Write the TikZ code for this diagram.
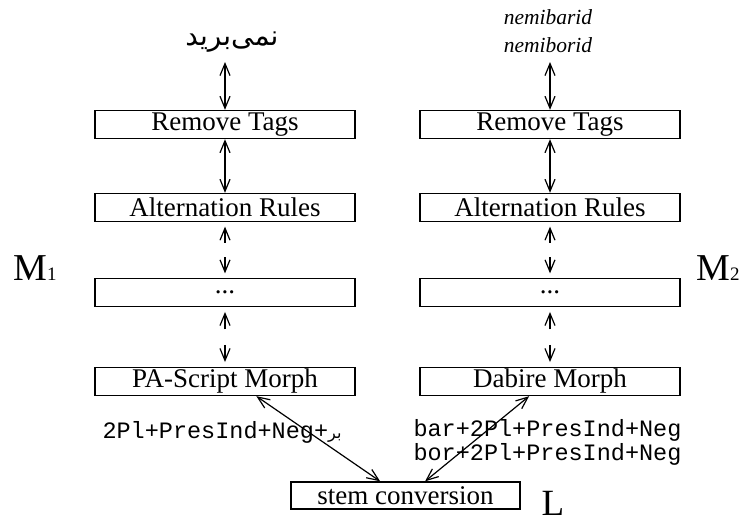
\documentclass[tikz,border=0pt]{standalone}
\usepackage{fontspec}
\setmainfont{Liberation Serif}
\setmonofont{Liberation Mono}
\newfontfamily\arabicfont[Script=Arabic]{DejaVu Sans}
\TeXXeTstate=1
\usetikzlibrary{arrows.meta,calc}
\begin{document}
\begin{tikzpicture}[x=1pt,y=-1pt,
  box/.style={draw,line width=1.4pt,minimum width=260pt,minimum height=28pt,inner sep=0pt,font=\fontsize{27}{29}\selectfont},
  arr/.style={{Straight Barb[length=12pt,width=10pt]}-{Straight Barb[length=12pt,width=10pt]},line width=1.2pt},
  harr/.style={-{Straight Barb[length=12pt,width=10pt]},line width=1.2pt}]
\useasboundingbox (0,0) rectangle (756,523);
% left column
\node[box] (r1) at (225,124.5) {Remove Tags};
\node[box] (a1) at (225,207.5) {Alternation Rules};
\node[box] (d1) at (225,292.5) {...};
\node[box] (p1) at (225,381.5) {PA-Script Morph};
% right column
\node[box] (r2) at (550,124.5) {Remove Tags};
\node[box] (a2) at (550,207.5) {Alternation Rules};
\node[box] (d2) at (550,292.5) {...};
\node[box] (p2) at (550,381.5) {Dabire Morph};
% stem
\node[box,minimum width=229pt,minimum height=27pt] (s) at (405.5,495.5) {stem conversion};
% top labels
\node[inner sep=2pt] (t1) at (232,42) {\arabicfont\fontsize{28}{30}\selectfont\beginR نمی‌برید\endR};
\node[inner sep=2pt,align=center,font=\fontsize{21.5}{28}\selectfont\itshape] (t2) at (548,31) {nemibarid\\nemiborid};
% vertical arrows
\draw[arr] (r1.north |- 0,62) coordinate (c1) -- (r1.north);
\draw[arr] (r2.north |- 0,62) coordinate (c2) -- (r2.north);
\draw[arr] (r1.south) -- (a1.north);
\draw[arr] (r2.south) -- (a2.north);
\foreach \u/\l in {a1/d1,d1/p1,a2/d2,d2/p2}{
  \draw[harr] ($(\u.south)!0.37!(\l.north)$) -- ($(\u.south)!0.08!(\l.north)$);
  \draw[harr] ($(\u.south)!0.63!(\l.north)$) -- ($(\u.south)!0.92!(\l.north)$);
}
% diagonal arrows
\draw[arr] ($(p1.south west)!0.62!(p1.south east)$) -- ($(s.north west)!0.39!(s.north east)$);
\draw[arr] ($(p2.south west)!0.42!(p2.south east)$) -- ($(s.north west)!0.585!(s.north east)$);
% labels
\node (lab1) at (222,432) {\ttfamily\fontsize{23.5}{27}\selectfont 2Pl+PresInd+Neg+{\arabicfont\fontsize{16}{18}\selectfont\beginR بر\endR}};
\node[anchor=west,align=left,font=\ttfamily\fontsize{23.5}{24}\selectfont] (lab2) at (410,442) {bar+2Pl+PresInd+Neg\\bor+2Pl+PresInd+Neg};
\node (m1) at (35,268) {\fontsize{38}{42}\selectfont M\fontsize{19}{22}\selectfont 1};
\node (m2) at (718,268) {\fontsize{38}{42}\selectfont M\fontsize{19}{22}\selectfont 2};
\node[inner sep=0pt,anchor=base,font=\fontsize{37}{40}\selectfont] (l) at (553,515) {L};
\end{tikzpicture}
\end{document}
